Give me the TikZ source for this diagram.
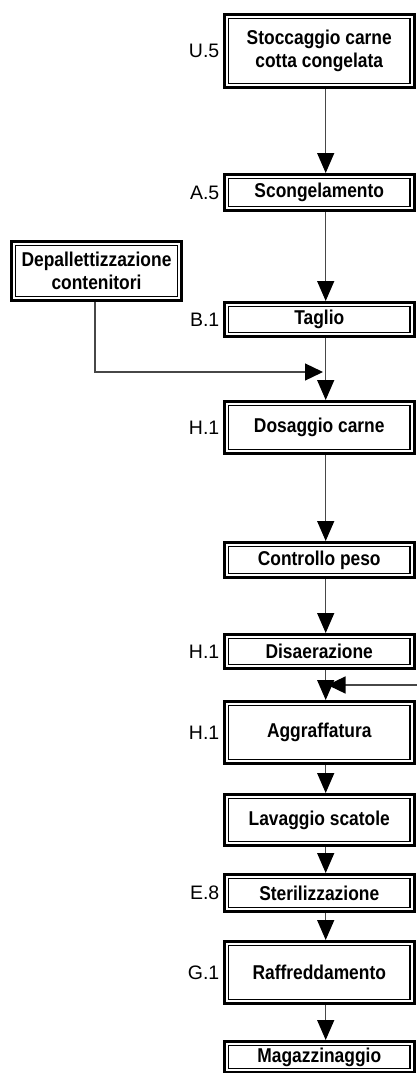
\documentclass[tikz,border=0pt]{standalone}
\usepackage{fontspec}
\setmainfont{Liberation Sans}
\newfontfamily\boxfont[FakeStretch=0.87]{Liberation Sans}
\usetikzlibrary{arrows.meta,calc}

\tikzset{
  procbox/.style={draw=black, line width=3pt, fill=white, align=center,
    inner sep=0pt, font=\boxfont\bfseries\fontsize{20}{23}\selectfont},
  innerframe/.style={draw=black, line width=1.3pt},
  steplabel/.style={anchor=east, inner sep=0pt, font=\fontsize{19.5}{23}\selectfont},
  flow/.style={draw=black!72, line width=1.3pt,
    -{Triangle[width=17pt,length=20pt,color=black]}},
  sideflow/.style={draw=black!72, line width=1.3pt,
    -{Triangle[width=17pt,length=18pt,color=black]}},
}

% \procstep{name}{x1}{x2}{y1}{y2}{text}: double-framed process box by its outer edges
\newcommand\procstep[6]{%
  \pgfmathsetmacro\bxcx{(#2+#3)/2}%
  \pgfmathsetmacro\bxcy{-(#4+#5)/2}%
  \pgfmathsetmacro\bxw{#3-#2-3}%
  \pgfmathsetmacro\bxh{#5-#4-3}%
  \node[procbox, minimum width=\bxw pt, minimum height=\bxh pt] (#1) at (\bxcx,\bxcy) {#6};%
  \draw[innerframe] ([shift={(5.6,-5.6)}]#1.north west) rectangle ([shift={(-5.6,5.6)}]#1.south east);%
}

\begin{document}
\begin{tikzpicture}[x=1pt,y=1pt]
\useasboundingbox (0,0) rectangle (416,-1073);

% main column of process steps
\procstep{st}{223}{415.5}{13}{89}{Stoccaggio carne\\cotta congelata}
\procstep{sc}{223}{415.5}{173}{212}{Scongelamento}
\procstep{dp}{10}{183}{240}{302}{Depallettizzazione\\contenitori}
\procstep{tg}{223}{415.5}{301}{338}{Taglio}
\procstep{ds}{223}{415.5}{400}{455}{Dosaggio carne}
\procstep{cp}{223}{415.5}{541}{579}{Controllo peso}
\procstep{di}{223}{415.5}{633}{670}{Disaerazione}
\procstep{ag}{223}{415.5}{700}{765}{Aggraffatura}
\procstep{lv}{223}{415.5}{793}{847}{Lavaggio scatole}
\procstep{sz}{223}{415.5}{873}{913}{Sterilizzazione}
\procstep{rf}{223}{415.5}{940}{1005}{Raffreddamento}
\procstep{mg}{223}{415.5}{1040}{1074}{Magazzinaggio}

% step codes
\node[steplabel] (lst) at ([xshift=-3.5pt]st.west) {U.5};
\node[steplabel] (lsc) at ([xshift=-3.5pt]sc.west) {A.5};
\node[steplabel] (ltg) at ([xshift=-3.5pt]tg.west) {B.1};
\node[steplabel] (lds) at ([xshift=-3.5pt]ds.west) {H.1};
\node[steplabel] (ldi) at ([xshift=-3.5pt]di.west) {H.1};
\node[steplabel] (lag) at ([xshift=-3.5pt]ag.west) {H.1};
\node[steplabel] (lsz) at ([xshift=-3.5pt]sz.west) {E.8};
\node[steplabel] (lrf) at ([xshift=-3.5pt]rf.west) {G.1};

% vertical flow line
\coordinate (spine) at (325.7,0);
\foreach \a/\b in {st/sc, sc/tg, tg/ds, ds/cp, cp/di, di/ag, ag/lv, lv/sz, sz/rf, rf/mg}
  \draw[flow] (\a.south -| spine) -- (\b.north -| spine);

% containers joining the line
\coordinate (merge) at (323,-372);
\draw[sideflow] ([xshift=-1.5pt]dp.south) |- (merge);

% return line entering from the right
\coordinate (retin) at (417,-685);
\coordinate (retout) at (327.5,-685);
\draw[sideflow] (retin) -- (retout);
\end{tikzpicture}
\end{document}
